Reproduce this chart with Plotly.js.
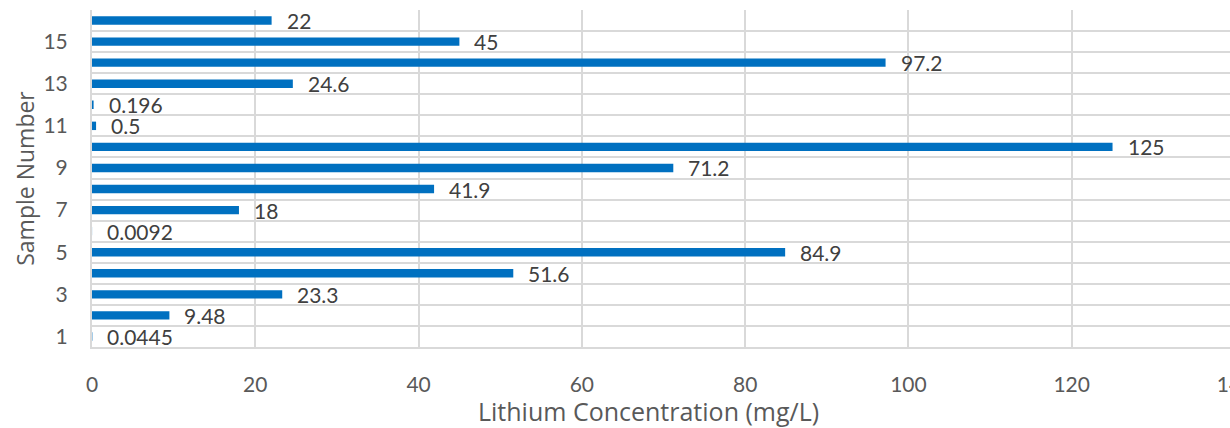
<!DOCTYPE html>
<html>
<head>
<meta charset="utf-8">
<script src="https://cdn.plot.ly/plotly-3.0.1.min.js"></script>
<style>
html,body{margin:0;padding:0;overflow:hidden;background:#fff;width:1230px;height:428px;}
#chart{width:1280px;height:428px;}
</style>
</head>
<body>
<div id="chart"></div>
<script>
const samples = [1,2,3,4,5,6,7,8,9,10,11,12,13,14,15,16];
const lithium = [0.0445,9.48,23.3,51.6,84.9,0.0092,18,41.9,71.2,125,0.5,0.196,24.6,97.2,45,22];
const labels = ["0.0445","9.48","23.3","51.6","84.9","0.0092","18","41.9","71.2","125","0.5","0.196","24.6","97.2","45","22"];
const yTicks = [1,3,5,7,9,11,13,15];
const xTicks = [0,20,40,60,80,100,120,140];

const FONT = "Lato, 'Open Sans', sans-serif";
const TFONT = "'Open Sans', Lato, sans-serif";

const trace = {
  type: 'bar',
  orientation: 'h',
  x: lithium,
  y: samples,
  width: 0.4,
  marker: {color: '#0070C0'},
  hoverinfo: 'x+y'
};

const annotations = samples.map((s, i) => ({
  x: lithium[i], y: s, xref: 'x', yref: 'y',
  text: labels[i], showarrow: false,
  xanchor: 'left', yanchor: 'middle', xshift: 13, yshift: 0,
  font: {family: FONT, size: 21, color: '#404040'}
}));
annotations.push({
  x: 0.487, y: 0, xref: 'paper', yref: 'paper', yanchor: 'top', yshift: -45,
  text: 'Lithium Concentration (mg/L)', showarrow: false,
  font: {family: TFONT, size: 25, color: '#595959'}
});

const layout = {
  width: 1280, height: 428,
  margin: {l: 92, r: 45, t: 10, b: 81},
  paper_bgcolor: '#fff', plot_bgcolor: '#fff',
  showlegend: false,
  font: {family: FONT, size: 20, color: '#595959'},
  xaxis: {
    range: [0, 140], tickvals: xTicks, ticktext: xTicks.map(String),
    showgrid: true, gridcolor: '#D9D9D9', gridwidth: 2,
    zeroline: false, showline: true, linecolor: '#D9D9D9', linewidth: 2,
    ticks: '', ticklabelstandoff: 18, ticklabeloverflow: 'allow',
    tickfont: {family: FONT, size: 21, color: '#595959'}
  },
  yaxis: {
    range: [0.5, 16.5], tickvals: yTicks, ticktext: yTicks.map(String),
    showgrid: false, zeroline: false,
    showline: true, linecolor: '#D9D9D9', linewidth: 2, mirror: false,
    ticks: '', ticklabelstandoff: 18,
    tickfont: {family: FONT, size: 21, color: '#595959'},
    minor: {tick0: 0.5, dtick: 1, showgrid: true, gridcolor: '#D9D9D9', gridwidth: 2, ticks: ''},
    title: {text: 'Sample Number', standoff: 2, font: {family: TFONT, size: 23, color: '#595959'}}
  },
  annotations: annotations
};

Plotly.newPlot('chart', [trace], layout, {displayModeBar: false, staticPlot: true});
</script>
</body>
</html>
